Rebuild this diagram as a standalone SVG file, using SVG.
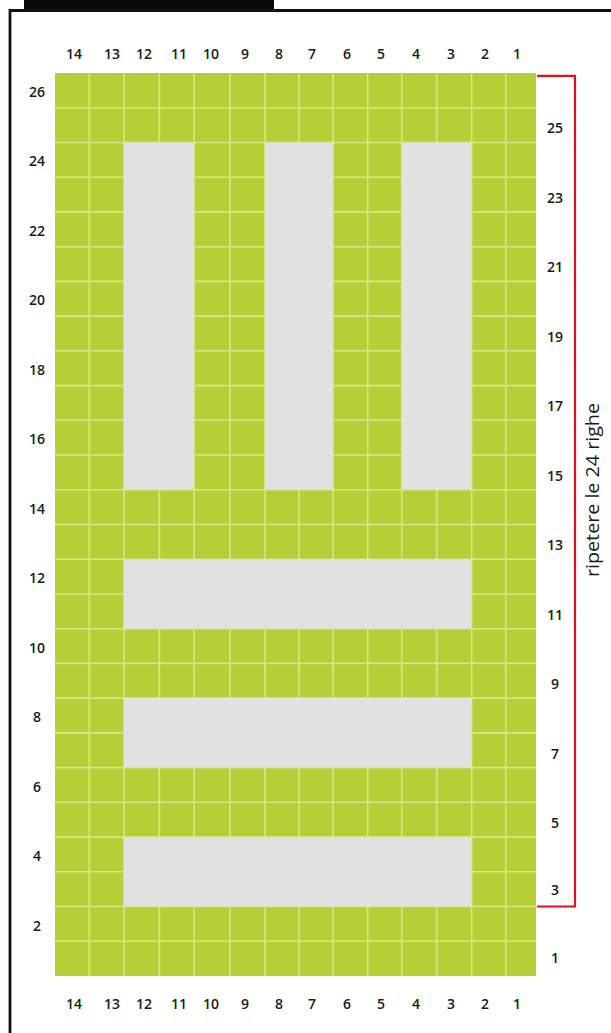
<svg xmlns="http://www.w3.org/2000/svg" width="611" height="1033" viewBox="0 0 611 1033">
  <style>
    .lbl { font-family: "Open Sans", "Liberation Sans", sans-serif; font-size: 14px; font-weight: 600; fill: #1a1a1a; text-anchor: middle; dominant-baseline: central; }
    .gl { stroke: #d8e68a; stroke-width: 1.6; fill: none; }
    .gray { fill: #e1e1e1; }
    .note { font-family: "Open Sans", "Liberation Sans", sans-serif; font-size: 17.5px; fill: #1a1a1a; text-anchor: middle; dominant-baseline: central; }
  </style>
  <rect x="0" y="0" width="611" height="1033" fill="#ffffff"/>
  <g id="frame">
    <rect x="24" y="0" width="250" height="12" fill="#0a0a0a"/>
    <path d="M10 1033 V10.5 H611" fill="none" stroke="#111111" stroke-width="2.8"/>
  </g>
  <g id="grid">
    <rect x="55" y="73" width="481" height="903" fill="#b7cf36"/>
    <g class="gl">
      <path d="M89.3 73V976M124 73V976M159.3 73V976M194 73V976M230 73V976M265 73V976M299 73V976M333 73V976M367.7 73V976M401.7 73V976M436.7 73V976M471.7 73V976M505.7 73V976"/>
      <path d="M55 107.7H536M55 142.5H536M55 177.2H536M55 211.9H536M55 246.7H536M55 281.4H536M55 316.1H536M55 350.8H536M55 385.6H536M55 420.3H536M55 455H536M55 489.8H536M55 524.5H536M55 559.2H536M55 594H536M55 628.7H536M55 663.4H536M55 698.1H536M55 732.9H536M55 767.6H536M55 802.3H536M55 837.1H536M55 871.8H536M55 906.5H536M55 941.3H536"/>
    </g>
    <g id="gray-bars">
      <rect class="gray" x="124" y="142.5" width="70" height="347.3"/>
      <rect class="gray" x="265" y="142.5" width="68" height="347.3"/>
      <rect class="gray" x="401.7" y="142.5" width="70" height="347.3"/>
      <rect class="gray" x="124" y="559.2" width="347.7" height="69.5"/>
      <rect class="gray" x="124" y="698.1" width="347.7" height="69.5"/>
      <rect class="gray" x="124" y="837.1" width="347.7" height="69.4"/>
    </g>
  </g>
  <g id="col-labels-top">
    <text class="lbl" x="74" y="53">14</text>
    <text class="lbl" x="112" y="53">13</text>
    <text class="lbl" x="144" y="53">12</text>
    <text class="lbl" x="179" y="53">11</text>
    <text class="lbl" x="211" y="53">10</text>
    <text class="lbl" x="245" y="53">9</text>
    <text class="lbl" x="279" y="53">8</text>
    <text class="lbl" x="312" y="53">7</text>
    <text class="lbl" x="347" y="53">6</text>
    <text class="lbl" x="381" y="53">5</text>
    <text class="lbl" x="416" y="53">4</text>
    <text class="lbl" x="451" y="53">3</text>
    <text class="lbl" x="485" y="53">2</text>
    <text class="lbl" x="517" y="53">1</text>
  </g>
  <g id="col-labels-bottom">
    <text class="lbl" x="74" y="1003">14</text>
    <text class="lbl" x="112" y="1003">13</text>
    <text class="lbl" x="144" y="1003">12</text>
    <text class="lbl" x="179" y="1003">11</text>
    <text class="lbl" x="211" y="1003">10</text>
    <text class="lbl" x="245" y="1003">9</text>
    <text class="lbl" x="279" y="1003">8</text>
    <text class="lbl" x="312" y="1003">7</text>
    <text class="lbl" x="347" y="1003">6</text>
    <text class="lbl" x="381" y="1003">5</text>
    <text class="lbl" x="416" y="1003">4</text>
    <text class="lbl" x="451" y="1003">3</text>
    <text class="lbl" x="485" y="1003">2</text>
    <text class="lbl" x="517" y="1003">1</text>
  </g>
  <g id="row-labels-left">
    <text class="lbl" x="37" y="91.5">26</text>
    <text class="lbl" x="37" y="160.5">24</text>
    <text class="lbl" x="37" y="230">22</text>
    <text class="lbl" x="37" y="299.5">20</text>
    <text class="lbl" x="37" y="369">18</text>
    <text class="lbl" x="37" y="438.5">16</text>
    <text class="lbl" x="37" y="508">14</text>
    <text class="lbl" x="37" y="577.5">12</text>
    <text class="lbl" x="37" y="647">10</text>
    <text class="lbl" x="37" y="716.5">8</text>
    <text class="lbl" x="37" y="786">6</text>
    <text class="lbl" x="37" y="855.5">4</text>
    <text class="lbl" x="37" y="925">2</text>
  </g>
  <g id="row-labels-right">
    <text class="lbl" x="555" y="127.5">25</text>
    <text class="lbl" x="555" y="197">23</text>
    <text class="lbl" x="555" y="266.5">21</text>
    <text class="lbl" x="555" y="336">19</text>
    <text class="lbl" x="555" y="405.5">17</text>
    <text class="lbl" x="555" y="475">15</text>
    <text class="lbl" x="555" y="544.5">13</text>
    <text class="lbl" x="555" y="614">11</text>
    <text class="lbl" x="555" y="683.5">9</text>
    <text class="lbl" x="555" y="753">7</text>
    <text class="lbl" x="555" y="822.5">5</text>
    <text class="lbl" x="555" y="889">3</text>
    <text class="lbl" x="555" y="957">1</text>
  </g>
  <g id="connectors">
    <path d="M537 75.8 H575 V906.5 H537" fill="none" stroke="#e3101e" stroke-width="2.2"/>
  </g>
  <g id="repeat-note">
    <text class="note" transform="translate(592 490) rotate(-90)" textLength="174" lengthAdjust="spacingAndGlyphs">ripetere le 24 righe</text>
  </g>
</svg>
